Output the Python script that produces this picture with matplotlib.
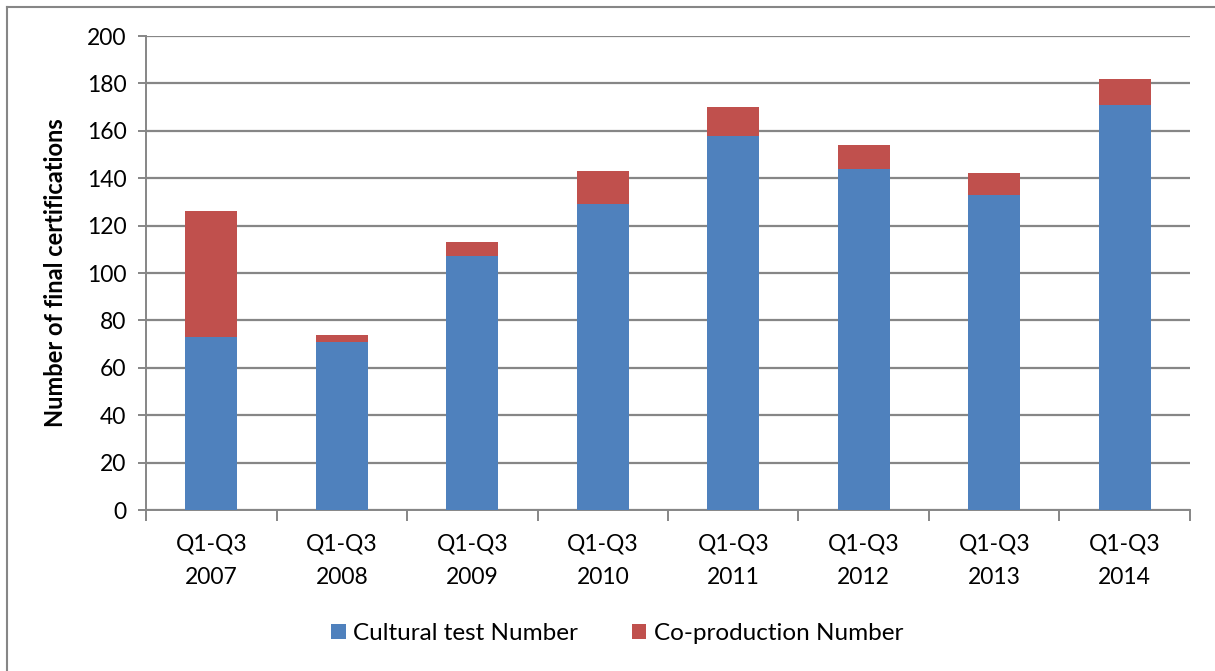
import matplotlib.pyplot as plt
import numpy as np
from matplotlib.lines import Line2D

periods = ["Q1-Q3\n2007", "Q1-Q3\n2008", "Q1-Q3\n2009", "Q1-Q3\n2010",
           "Q1-Q3\n2011", "Q1-Q3\n2012", "Q1-Q3\n2013", "Q1-Q3\n2014"]
cultural_test = [73, 71, 107, 129, 158, 144, 133, 171]
co_production = [53, 3, 6, 14, 12, 10, 9, 11]

plt.rcParams['font.family'] = ['Lato', 'DejaVu Sans']
grid_col = "#868686"

fig = plt.figure(figsize=(12.15, 6.71), dpi=100)
ax = fig.add_axes([0.1202, 0.2399, 0.8592, 0.7064])

x = np.arange(len(periods))
ax.bar(x, cultural_test, width=0.4, color="#4F81BD", zorder=3,
       label="Cultural test Number")
ax.bar(x, co_production, width=0.4, bottom=cultural_test, color="#C0504D",
       zorder=3, label="Co-production Number")

ax.set_xlim(-0.5, len(periods) - 0.5)
ax.set_ylim(0, 200)
ax.set_yticks(np.arange(0, 201, 20))
ax.yaxis.grid(True, color=grid_col, linewidth=1.6, zorder=0)

# category ticks sit between the bars
ax.set_xticks(x)
ax.set_xticklabels(periods, fontsize=16.5, linespacing=1.75)
ax.set_xticks(np.arange(-0.5, len(periods)), minor=True)
ax.tick_params(axis='x', which='major', length=0, pad=17)
ax.tick_params(axis='x', which='minor', length=8, width=1.4, color=grid_col)
ax.tick_params(axis='y', length=6, width=1.4, color=grid_col, labelsize=16.5, pad=8)

for s in ["top", "right"]:
    ax.spines[s].set_visible(False)
for s in ["left", "bottom"]:
    ax.spines[s].set_color(grid_col)
    ax.spines[s].set_linewidth(1.4)

ax.set_ylabel("Number of final certifications", fontsize=17, fontweight='bold',
              labelpad=14)

fig.legend(loc='center', bbox_to_anchor=(0.508, 0.056), ncol=2, frameon=False,
           fontsize=17.5, handlelength=0.6, handleheight=0.6, handletextpad=0.3,
           columnspacing=2.2)

# outer chart frame
fig.add_artist(Line2D([0.0058, 0.0058], [0, 0.9896], transform=fig.transFigure,
                      color=grid_col, linewidth=1.5))
fig.add_artist(Line2D([0.0058, 1.0], [0.9896, 0.9896], transform=fig.transFigure,
                      color=grid_col, linewidth=1.5))

fig.savefig("out.png", dpi=100)
